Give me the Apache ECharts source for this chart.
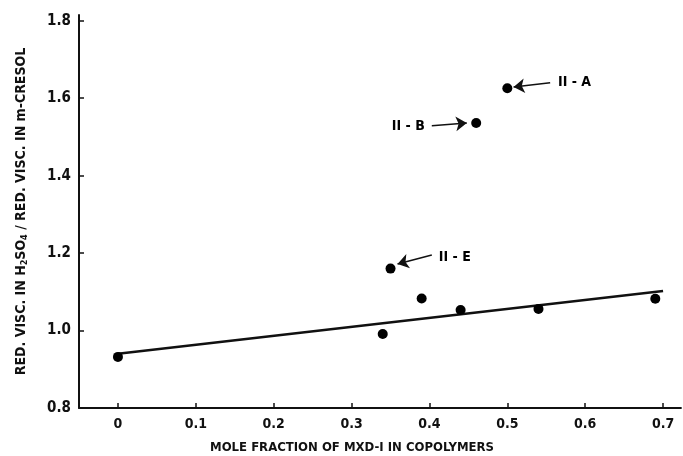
<!DOCTYPE html>
<html>
<head>
<meta charset="utf-8">
<script src="https://cdn.jsdelivr.net/npm/echarts@6/dist/echarts.min.js"></script>
<style>
html,body{margin:0;padding:0;background:#fff;}
#chart{width:683px;height:456px;}
</style>
</head>
<body>
<div id="chart"></div>
<script>
// ---- data ----
const xTicks = [0, 0.1, 0.2, 0.3, 0.4, 0.5, 0.6, 0.7];
const yTicks = [0.8, 1.0, 1.2, 1.4, 1.6, 1.8];
const moleFraction = [0, 0.34, 0.35, 0.39, 0.44, 0.46, 0.50, 0.54, 0.69];
const viscRatio    = [0.932, 0.991, 1.160, 1.083, 1.053, 1.536, 1.626, 1.056, 1.082];
const fitX = [0, 0.70];
const fitY = [0.94, 1.102];
const annotLabels = ['II - A', 'II - B', 'II - E'];
const annotTextX  = [0.565, 0.394, 0.412];
const annotTextY  = [1.640, 1.528, 1.190];
const arrowFromX  = [0.555, 0.403, 0.403];
const arrowFromY  = [1.640, 1.529, 1.195];
const arrowToX    = [0.508, 0.448, 0.359];
const arrowToY    = [1.629, 1.536, 1.172];

const FONT = '"Liberation Sans Narrow", "DejaVu Sans Condensed", "Roboto Condensed", sans-serif';

const chart = echarts.init(document.getElementById('chart'), null, {renderer: 'canvas'});

const labelAlign = ['left', 'right', 'left'];

chart.setOption({
  backgroundColor: '#fff',
  animation: false,
  grid: {left: 79, right: 2, top: 15, bottom: 48, containLabel: false, outerBoundsMode: 'none'},
  xAxis: {
    type: 'value',
    min: -0.05,
    max: 0.723,
    name: 'MOLE FRACTION OF MXD-I IN COPOLYMERS',
    nameLocation: 'middle',
    nameGap: 33,
    nameTextStyle: {fontFamily: FONT, fontWeight: 'bold', fontSize: 13, color: '#111', padding: [0, 56, 0, 0]},
    axisLine: {onZero: false, lineStyle: {color: '#111', width: 1.8}},
    axisTick: {show: true, inside: true, length: 5, lineStyle: {color: '#111', width: 1.5}, customValues: xTicks},
    axisLabel: {
      customValues: xTicks,
      fontFamily: FONT, fontWeight: 'bold', fontSize: 14, color: '#111', margin: 9,
      formatter: v => (v === 0 ? '0' : v.toFixed(1))
    },
    splitLine: {show: false}
  },
  yAxis: {
    type: 'value',
    min: 0.8,
    max: 1.815,
    name: 'RED. VISC. IN H{sub|2}SO{sub|4} / RED. VISC. IN m-CRESOL',
    nameLocation: 'middle',
    nameGap: 50,
    nameTextStyle: {
      fontFamily: FONT, fontWeight: 'bold', fontSize: 14, color: '#111',
      rich: {sub: {fontFamily: FONT, fontWeight: 'bold', fontSize: 9, color: '#111', padding: [6, 0, 0, 0]}}
    },
    axisLine: {onZero: false, lineStyle: {color: '#111', width: 2}},
    axisTick: {show: true, inside: true, length: 5, lineStyle: {color: '#111', width: 1.5}, customValues: yTicks},
    axisLabel: {
      customValues: yTicks,
      fontFamily: FONT, fontWeight: 'bold', fontSize: 15, color: '#111', margin: 8,
      formatter: v => v.toFixed(1)
    },
    splitLine: {show: false}
  },
  series: [
    {
      type: 'line',
      data: fitX.map((x, i) => [x, fitY[i]]),
      symbol: 'none',
      lineStyle: {color: '#111', width: 2.6},
      z: 2
    },
    {
      type: 'scatter',
      data: moleFraction.map((x, i) => [x, viscRatio[i]]),
      symbol: 'circle',
      symbolSize: 10,
      itemStyle: {color: '#000', opacity: 1},
      z: 3
    },
    {
      type: 'lines',
      coordinateSystem: 'cartesian2d',
      symbol: ['none', 'arrow'],
      symbolSize: [5, 11],
      lineStyle: {color: '#111', width: 1.5, opacity: 1},
      data: arrowFromX.map((x, i) => ({coords: [[x, arrowFromY[i]], [arrowToX[i], arrowToY[i]]]})),
      z: 4
    },
    {
      type: 'scatter',
      symbolSize: 0,
      itemStyle: {opacity: 1},
      data: annotLabels.map((t, i) => ({name: t, value: [annotTextX[i], annotTextY[i]],
        label: {align: labelAlign[i]}})),
      label: {
        show: true,
        position: 'inside',
        formatter: p => p.name,
        fontFamily: FONT, fontWeight: 'bold', fontSize: 14, color: '#000',
        verticalAlign: 'middle'
      },
      silent: true,
      z: 5
    }
  ]
});
</script>
</body>
</html>
